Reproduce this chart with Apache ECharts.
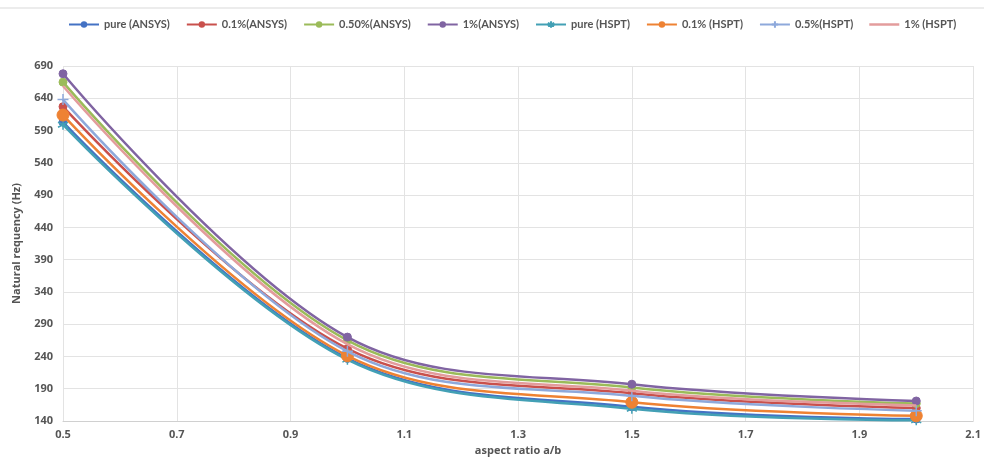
<!DOCTYPE html>
<html>
<head>
<meta charset="utf-8">
<script src="https://cdn.jsdelivr.net/npm/echarts@6/dist/echarts.min.js"></script>
<style>
  html, body { margin: 0; padding: 0; background: #fff; }
  #chart { width: 984px; height: 461px; }
</style>
</head>
<body>
<div id="chart"></div>
<script>
// Aspect ratios a/b
const aspectRatios = [0.5, 1.0, 1.5, 2.0];

// Natural frequency (Hz) per case
const pureAnsys    = [603, 237, 162, 143];
const p01Ansys     = [627, 252, 183, 160];
const p05Ansys     = [665, 265, 192, 167];
const p1Ansys      = [678, 270, 197, 171];
const pureHspt     = [599, 235, 159, 141];
const p01Hspt      = [614, 241, 169, 148];
const p05Hspt      = [638, 248, 179, 156];
const p1Hspt       = [659, 259, 187, 164];

// Axis tick values
const xTicks = [0.5, 0.7, 0.9, 1.1, 1.3, 1.5, 1.7, 1.9, 2.1];
const yTicks = [140, 190, 240, 290, 340, 390, 440, 490, 540, 590, 640, 690];

const seriesNames = ['pure (ANSYS)', '0.1%(ANSYS)', '0.50%(ANSYS)', '1%(ANSYS)',
                     'pure (HSPT)', '0.1% (HSPT)', '0.5%(HSPT)', '1% (HSPT)'];
const seriesValues = [pureAnsys, p01Ansys, p05Ansys, p1Ansys, pureHspt, p01Hspt, p05Hspt, p1Hspt];
const colors = ['#4472C4', '#C9504C', '#9BBB59', '#8064A2', '#43A0B5', '#EE8233', '#8EA9DB', '#E39C9C'];

const asterisk = 'path://M0,-5L0,5M-4.3,-2.5L4.3,2.5M-4.3,2.5L4.3,-2.5';
const plus = 'path://M0,-5L0,5M-5,0L5,0';
const symbols = ['circle', 'circle', 'circle', 'circle', asterisk, 'circle', plus, 'none'];
const symbolSizes = [8, 8, 8, 8, 10, 12, 11, 0];

const chart = echarts.init(document.getElementById('chart'));

const series = seriesNames.map((name, i) => {
  const isPath = symbols[i].startsWith('path://');
  return {
    name: name,
    type: 'line',
    smooth: 0.35,
    data: aspectRatios.map((x, k) => [x, seriesValues[i][k]]),
    symbol: symbols[i],
    symbolSize: symbolSizes[i],
    showSymbol: symbols[i] !== 'none',
    lineStyle: { color: colors[i], width: 2.5 },
    itemStyle: isPath
      ? { color: 'transparent', borderColor: colors[i], borderWidth: 1.5 }
      : { color: colors[i], borderColor: colors[i] },
    z: 2 + i
  };
});

// Series without markers get a plain line swatch in the legend
const legendData = seriesNames.map((name, i) =>
  symbols[i] === 'none' ? { name: name, icon: 'path://M0,0H30V2.5H0Z' } : name
);

chart.setOption({
  animation: false,
  color: colors,
  textStyle: { fontFamily: 'Open Sans' },
  graphic: [{
    type: 'line',
    shape: { x1: 0, y1: 8, x2: 984, y2: 8 },
    style: { stroke: '#d9d9d9', lineWidth: 1 }
  }],
  legend: {
    top: 14,
    left: 63,
    right: 0,
    itemWidth: 30,
    itemHeight: 8,
    itemGap: 16,
    textStyle: { color: '#555555', fontSize: 11, fontWeight: 'bold', fontFamily: 'Lato' },
    data: legendData
  },
  grid: { left: 63, right: 9, top: 66, bottom: 39 },
  xAxis: {
    type: 'value',
    min: 0.5,
    max: 2.1,
    name: 'aspect ratio a/b',
    nameLocation: 'middle',
    nameGap: 24,
    nameTextStyle: { color: '#555555', fontSize: 11, fontWeight: 'bold' },
    axisLine: { show: true, lineStyle: { color: '#d0d0d0' } },
    axisTick: { show: false, customValues: xTicks },
    axisLabel: {
      customValues: xTicks,
      color: '#555555', fontSize: 11, fontWeight: 'bold', margin: 8,
      formatter: v => v.toFixed(1)
    },
    splitLine: { show: true, lineStyle: { color: '#e3e3e3' } }
  },
  yAxis: {
    type: 'value',
    min: 140,
    max: 690,
    name: 'Natural requency (Hz)',
    nameLocation: 'middle',
    nameGap: 41,
    nameTextStyle: { color: '#555555', fontSize: 11, fontWeight: 'bold' },
    axisLine: { show: false },
    axisTick: { show: false, customValues: yTicks },
    axisLabel: {
      customValues: yTicks,
      color: '#555555', fontSize: 11, fontWeight: 'bold', margin: 10
    },
    splitLine: { show: true, lineStyle: { color: '#e3e3e3' } }
  },
  series: series
});
</script>
</body>
</html>
